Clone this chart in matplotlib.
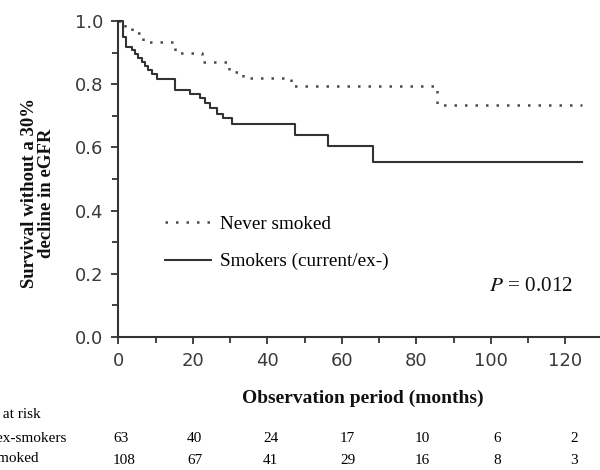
import matplotlib
matplotlib.use("Agg")
import matplotlib.pyplot as plt
from matplotlib.ticker import MultipleLocator

# Kaplan-Meier step data
never_t = [0, 1.7, 3.6, 6.7, 15.2, 22.4, 29.8, 33.6, 46.3, 85.5, 124.5]
never_s = [1.0, 0.977, 0.962, 0.934, 0.900, 0.871, 0.838, 0.821, 0.794, 0.734, 0.734]

smoker_t = [0, 1.3, 2.2, 3.6, 4.5, 5.4, 6.3, 7.2, 8.1, 9.0, 10.4, 15.2, 19.2,
            21.9, 23.3, 24.6, 26.4, 28.2, 30.4, 47.4, 56.4, 68.5, 124.5]
smoker_s = [1.0, 0.950, 0.919, 0.908, 0.896, 0.884, 0.870, 0.857, 0.844, 0.831,
            0.818, 0.781, 0.768, 0.755, 0.740, 0.725, 0.705, 0.692, 0.673, 0.639,
            0.605, 0.553, 0.553]

risk_labels = ["Number at risk", "Current/ex-smokers", "Never smoked"]
risk_smokers = [63, 40, 24, 17, 10, 6, 2]
risk_never = [108, 67, 41, 29, 16, 8, 3]

W, H = 600, 470
serif = "Liberation Serif"
plt.rcParams["mathtext.fontset"] = "stix"

fig = plt.figure(figsize=(6, 4.7), dpi=100)
ax = fig.add_axes([118.3 / W, 1 - 337 / H, 480.5 / W, 316 / H])

ax.step(never_t, never_s, where="post", color="#4a4a4a", lw=1.8,
        linestyle=(0, (1, 3.2)), clip_on=False, label="Never smoked")
ax.step(smoker_t, smoker_s, where="post", color="#333333", lw=1.5,
        clip_on=False, label="Smokers (current/ex-)")

ax.set_xlim(0, 129)
ax.set_ylim(0, 1.0)
ax.xaxis.set_major_locator(MultipleLocator(20))
ax.xaxis.set_minor_locator(MultipleLocator(10))
ax.yaxis.set_major_locator(MultipleLocator(0.2))
ax.yaxis.set_minor_locator(MultipleLocator(0.1))
ax.yaxis.set_major_formatter(plt.FormatStrFormatter("%.1f"))

for s in ["top", "right"]:
    ax.spines[s].set_visible(False)
for s in ["left", "bottom"]:
    ax.spines[s].set_linewidth(1.5)
    ax.spines[s].set_color("#333333")

ax.tick_params(which="both", direction="out", color="#333333", width=1.3,
               labelsize=13, labelcolor="#3a3a3a")
ax.tick_params(which="major", length=5, pad=6)
ax.tick_params(which="minor", length=4)

leg = ax.legend(loc="upper left", bbox_to_anchor=(0.097, 0.385), frameon=False,
                prop={"family": serif, "size": 13.8}, handlelength=2.4,
                labelspacing=1.05, borderpad=0, borderaxespad=0, handletextpad=0.5)

ax.text(0.946, 0.16, "$P$ = 0.012", transform=ax.transAxes, ha="right",
        va="center", family=serif, fontsize=15.3, color="#111111")

fig.text(38 / W, 1 - 193 / H, "Survival without a 30%\ndecline in eGFR",
         rotation=90, ha="center", va="center", multialignment="center",
         family=serif, fontweight="bold", fontsize=13.5, color="#111111",
         linespacing=1.05)
fig.text(363 / W, 1 - 398 / H, "Observation period (months)", ha="center",
         va="center", family=serif, fontweight="bold", fontsize=14,
         color="#111111")

# number at risk table (labels run off the left edge like the reference)
fig.text(41 / W, 1 - 415 / H, risk_labels[0], ha="right", va="center",
         family=serif, fontsize=11)
fig.text(67 / W, 1 - 438 / H, risk_labels[1], ha="right", va="center",
         family=serif, fontsize=11)
fig.text(38 / W, 1 - 459 / H, risk_labels[2], ha="right", va="center",
         family=serif, fontsize=11)
col_x = [113, 187, 263, 340, 415, 493, 570]
for x, a, b in zip(col_x, risk_smokers, risk_never):
    fig.text(x / W, 1 - 438 / H, str(a), ha="left", va="center",
             family=serif, fontsize=11)
    fig.text(x / W, 1 - 460 / H, str(b), ha="left", va="center",
             family=serif, fontsize=11)

fig.savefig("out.png", dpi=100)
